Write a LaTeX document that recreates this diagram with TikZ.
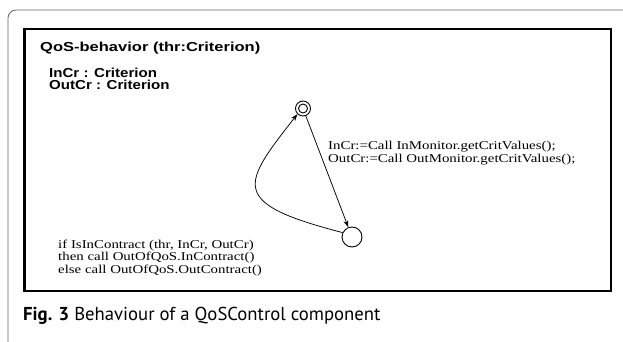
\documentclass[tikz,border=0pt]{standalone}
\usepackage{fontspec}
\setmainfont{Liberation Serif}
\newfontfamily\helv{Liberation Sans}
\newfontfamily\capfont{PT Sans}
\usetikzlibrary{arrows.meta}
\newcommand{\sx}[1]{\scalebox{1.27}[1]{#1}}
\newcommand{\vx}[1]{\scalebox{1.16}[1]{#1}}
\newcommand{\rx}[1]{\scalebox{1.24}[1]{#1}}
\definecolor{framegray}{RGB}{100,100,100}
\tikzset{
  sanslbl/.style={anchor=west, inner sep=0pt, align=left, font=\helv\bfseries\fontsize{13}{12}\selectfont},
  seriflbl/.style={anchor=west, inner sep=0pt, align=left, font=\fontsize{12}{12.3}\selectfont},
  state/.style={circle, draw, line width=0.9pt, inner sep=0pt},
  trans/.style={line width=0.75pt, -{Stealth[length=7pt,width=5pt]}},
}
\begin{document}
\begin{tikzpicture}[x=1pt,y=-1pt]
\useasboundingbox (0,0) rectangle (623,342);
% outer page frame
\draw[framegray, line width=0.8pt, rounded corners=8pt] (8,343) -- (8,10) -- (624,10);
% inner box
\draw[line width=2.6pt] (24.5,29) rectangle (611,291);
% texts
\node[sanslbl] (title) at (40,48) {\sx{QoS-behavior (thr:Criterion)}};
\node[sanslbl] (vars) at (49,79) {\vx{InCr : Criterion}\\\vx{OutCr : Criterion}};
\node[seriflbl] (act) at (328,153) {\rx{InCr:=Call InMonitor.getCritValues();}\\\rx{OutCr:=Call OutMonitor.getCritValues();}};
\node[seriflbl] (cond) at (58,258) {\rx{if IsInContract (thr, InCr, OutCr)}\\\rx{then call OutOfQoS.InContract()}\\\rx{else call OutOfQoS.OutContract()}};
% states
\node[state, minimum size=15pt] (dbl) at (303,108.5) {};
\node[state, minimum size=9pt] (dbli) at (dbl.center) {};
\node[state, minimum size=20pt] (low) at (352,237) {};
% transitions
\draw[trans] (dbl) -- (low);
\draw[trans] (low.155) .. controls (228,203) and (242,185) .. (dbl.225);
% caption
\node[anchor=west, inner sep=0pt, font=\capfont\fontsize{18.7}{20}\selectfont] (cap) at (23,316) {\textbf{Fig. 3} Behaviour of a QoSControl component};
\end{tikzpicture}
\end{document}
